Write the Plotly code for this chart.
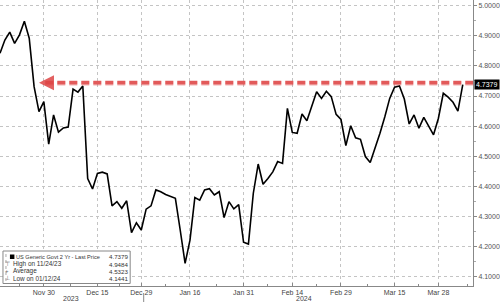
import plotly.graph_objects as go

# ---- data (trading-day index 0 = 2023-11-16 ... 95 = 2024-04-04)
values = [
    4.842, 4.886, 4.912, 4.875, 4.903, 4.9484, 4.892, 4.731, 4.648, 4.681,
    4.540, 4.637, 4.580, 4.594, 4.597, 4.723, 4.713, 4.733, 4.426, 4.391,
    4.443, 4.447, 4.441, 4.335, 4.349, 4.327, 4.352, 4.246, 4.279, 4.255,
    4.324, 4.335, 4.388, 4.382, 4.373, 4.366, 4.360, 4.254, 4.1441, 4.221,
    4.363, 4.354, 4.388, 4.392, 4.371, 4.382, 4.296, 4.349, 4.325, 4.339,
    4.214, 4.208, 4.377, 4.474, 4.407, 4.426, 4.448, 4.482, 4.476, 4.659,
    4.579, 4.576, 4.640, 4.618, 4.669, 4.714, 4.692, 4.716, 4.698, 4.639,
    4.622, 4.535, 4.601, 4.561, 4.556, 4.499, 4.479, 4.526, 4.576, 4.631,
    4.692, 4.729, 4.733, 4.690, 4.607, 4.637, 4.593, 4.629, 4.598, 4.571,
    4.626, 4.709, 4.696, 4.679, 4.650, 4.7379,
]
x_idx = list(range(len(values)))

tick_idx = [9, 20, 29, 39, 50, 60, 70, 81, 90]
tick_labels = ["Nov 30", "Dec 15", "Dec 29", "Jan 16", "Jan 31", "Feb 14", "Feb 29", "Mar 15", "Mar 28"]
minor_idx = [4, 14.5, 24.5, 34, 44.5, 55, 65, 75.5, 86, 96]
y_ticks = [4.1, 4.2, 4.3, 4.4, 4.5, 4.6, 4.7, 4.8, 4.9, 5.0]

legend_rows = [
    ("US Generic Govt 2 Yr - Last Price", "4.7379"),
    ("High on 11/24/23", "4.9484"),
    ("Average", "4.5323"),
    ("Low on 01/12/24", "4.1441"),
]
year_labels = [("2023", 14.5), ("2024", 62.5)]
year_sep = 29.5

W, H = 500, 302
ML, MR, MT, MB = 0, 24, 0, 16
PW, PH = W - ML - MR, H - MT - MB
FONT = "Liberation Sans"
last = values[-1]

fig = go.Figure()
fig.add_trace(go.Scatter(x=x_idx, y=values, mode="lines",
                         line=dict(color="black", width=1.6),
                         hoverinfo="skip", showlegend=False))

def px_x(p):  # pixel -> paper x
    return (p - ML) / PW

def px_y(p):  # pixel -> paper y
    return 1 - (p - MT) / PH

shapes = []
annots = []

# red dashed arrow line
shapes.append(dict(type="line", xref="x", yref="y", x0=9.3, x1=97.1,
                   y0=last + 0.005, y1=last + 0.005,
                   line=dict(color="rgba(225,80,80,0.3)", width=5.5, dash="8px,4px")))
shapes.append(dict(type="line", xref="x", yref="y", x0=9.3, x1=97.1,
                   y0=last + 0.006, y1=last + 0.006,
                   line=dict(color="rgba(222,70,70,0.85)", width=3.5, dash="8px,4px")))
# arrow head
annots.append(dict(x=8.0, y=last + 0.006, xref="x", yref="y", ax=9.8, ay=last + 0.006,
                   axref="x", ayref="y", showarrow=True, arrowhead=2, arrowsize=0.75,
                   arrowwidth=4, arrowcolor="rgba(222,70,70,0.85)", text=""))

# last price label
annots.append(dict(x=1.0, y=last, xref="paper", yref="y", xanchor="left", yanchor="middle",
                   xshift=1, text="4.7379", showarrow=False,
                   font=dict(family=FONT, size=7, color="white"),
                   bgcolor="black", borderpad=1))

# year separator (below the tick labels)
shapes.append(dict(type="line", xref="x", yref="paper", x0=year_sep, x1=year_sep,
                   y0=px_y(293), y1=px_y(302), line=dict(color="#888", width=1)))
for lab, xi in year_labels:
    annots.append(dict(x=xi, y=px_y(298), xref="x", yref="paper", text=lab,
                       showarrow=False, xanchor="center", yanchor="middle",
                       font=dict(family=FONT, size=7, color="#444")))

# legend box
shapes.append(dict(type="rect", xref="paper", yref="paper",
                   x0=px_x(3), x1=px_x(131), y0=px_y(251), y1=px_y(283.5),
                   fillcolor="white", line=dict(color="#888", width=1)))
shapes.append(dict(type="line", xref="paper", yref="paper",
                   x0=px_x(6), x1=px_x(6), y0=px_y(254), y1=px_y(281),
                   line=dict(color="#aaa", width=1, dash="dot")))
shapes.append(dict(type="rect", xref="paper", yref="paper",
                   x0=px_x(10), x1=px_x(14.5), y0=px_y(254.5), y1=px_y(259),
                   fillcolor="black", line=dict(color="black", width=0)))
row_y = [256.8, 264, 271.2, 278.4]
icons = ["", "\u22a4", "+", "\u22a5"]
label_sizes = [5.6, 6.4, 6.4, 6.4]
for (lab, val), ry, ic, fs in zip(legend_rows, row_y, icons, label_sizes):
    annots.append(dict(x=px_x(14.5 if ic == "" else 11.5), y=px_y(ry), xref="paper", yref="paper",
                       text=lab, showarrow=False, xanchor="left", yanchor="middle",
                       font=dict(family=FONT, size=fs, color="#333")))
    annots.append(dict(x=px_x(131), y=px_y(ry), xref="paper", yref="paper",
                       text=val, showarrow=False, xanchor="right", yanchor="middle",
                       font=dict(family=FONT, size=6.2, color="#333")))
    if ic:
        annots.append(dict(x=px_x(7.5), y=px_y(ry), xref="paper", yref="paper",
                           text=ic, showarrow=False, xanchor="center", yanchor="middle",
                           font=dict(family=FONT, size=6, color="#666")))

fig.update_layout(
    width=W, height=H,
    margin=dict(l=ML, r=MR, t=MT, b=MB, pad=0),
    paper_bgcolor="white", plot_bgcolor="white",
    showlegend=False,
    font=dict(family=FONT, size=7, color="#444"),
    shapes=shapes, annotations=annots,
    xaxis=dict(range=[0, 97.1], tickmode="array", tickvals=tick_idx, ticktext=tick_labels,
               showgrid=True, gridcolor="#c4c4c4", griddash="dot", gridwidth=1,
               showline=True, linecolor="#888", linewidth=1,
               ticks="inside", ticklen=3, tickcolor="#888",
               minor=dict(tickvals=minor_idx, ticks="inside", ticklen=2, tickcolor="#888", showgrid=False),
               tickfont=dict(family=FONT, size=7, color="#444"), zeroline=False, fixedrange=True),
    yaxis=dict(range=[4.0688, 5.0189], side="right", tickmode="array", tickvals=y_ticks,
               tickformat=".4f", showgrid=True, gridcolor="#c4c4c4", griddash="dot", gridwidth=1,
               showline=True, linecolor="#888", linewidth=1,
               ticks="outside", ticklen=3, tickcolor="#888",
               minor=dict(dtick=0.05, ticks="outside", ticklen=2, tickcolor="#aaa", showgrid=False),
               tickfont=dict(family=FONT, size=7, color="#555"), zeroline=False, fixedrange=True),
)

fig.write_html("out.html")
